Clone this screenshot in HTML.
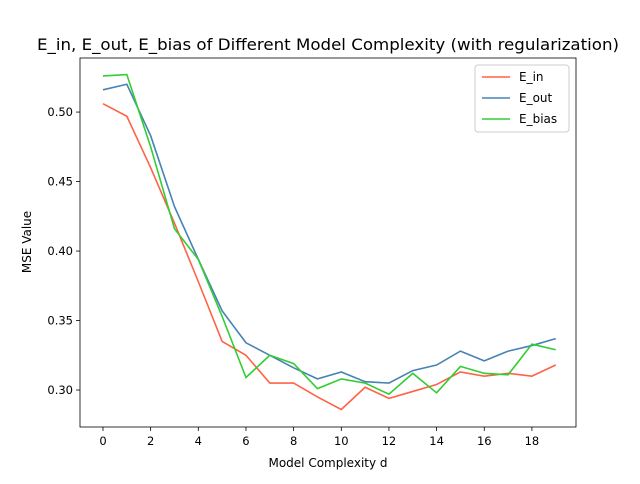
<!DOCTYPE html>
<html><head><meta charset="utf-8"><style>
body{margin:0;background:#fff;font-family:"DejaVu Sans","Liberation Sans",sans-serif;}
svg text{font-family:"DejaVu Sans","Liberation Sans",sans-serif;}
</style></head><body>
<svg id="chart" width="640" height="480"></svg>
<script>
const xs=[0,1,2,3,4,5,6,7,8,9,10,11,12,13,14,15,16,17,18,19];
const eIn=[0.506,0.497,0.46,0.42,0.378,0.335,0.325,0.305,0.305,0.295,0.286,0.302,0.294,0.299,0.304,0.313,0.310,0.312,0.310,0.318];
const eOut=[0.516,0.520,0.483,0.432,0.394,0.357,0.334,0.325,0.316,0.308,0.313,0.306,0.305,0.314,0.318,0.328,0.321,0.328,0.332,0.337];
const eBias=[0.526,0.527,0.475,0.416,0.394,0.353,0.309,0.325,0.319,0.301,0.308,0.305,0.297,0.312,0.298,0.317,0.312,0.311,0.333,0.329];
const xTicks=[0,2,4,6,8,10,12,14,16,18];
const yTicks=[0.30,0.35,0.40,0.45,0.50];
const seriesNames=["E_in","E_out","E_bias"];
const NS="http://www.w3.org/2000/svg";
const svg=document.getElementById('chart');
const L=80,R=576,T=58,B=427;
const x0=-0.965,x1=19.85,y0=0.2734,y1=0.5389;
const X=v=>L+(v-x0)/(x1-x0)*(R-L);
const Y=v=>B-(v-y0)/(y1-y0)*(B-T);
function mk(tag,attrs,txt){const e=document.createElementNS(NS,tag);for(const k in attrs)e.setAttribute(k,attrs[k]);if(txt!=null)e.textContent=txt;svg.appendChild(e);return e;}
let t=mk('text',{x:328,y:50,'font-size':16,'text-anchor':'middle',textLength:582,lengthAdjust:'spacingAndGlyphs'},'E_in, E_out, E_bias of Different Model Complexity (with regularization)');


xTicks.forEach(v=>{
 const l=mk('line',{x1:X(v),x2:X(v),y1:B,y2:B+4,stroke:'#000','stroke-width':0.8});
 
 
 const tx=mk('text',{x:X(v),y:B+18,'font-size':11.5,'text-anchor':'middle'},String(v));
 
 
});
yTicks.forEach(v=>{
 const l=mk('line',{x1:L-4,x2:L,y1:Y(v),y2:Y(v),stroke:'#000','stroke-width':0.8});
 
 
 const tx=mk('text',{x:L-7,y:Y(v)+4,'font-size':11.5,'text-anchor':'end'},v.toFixed(2));
 
 
});
t=mk('text',{x:328,y:467,'font-size':12,'text-anchor':'middle'},'Model Complexity d');


t=mk('text',{x:31,y:242,'font-size':12,'text-anchor':'middle',transform:'rotate(-90 31 242)'},'MSE Value');


const colors=['#ff6347','#4682b4','#32cd32'];
[eIn,eOut,eBias].forEach((s,i)=>{
 const p=mk('polyline',{points:s.map((v,j)=>X(xs[j])+','+Y(v)).join(' '),fill:'none',stroke:colors[i],'stroke-width':1.6});
 
 
});
const fr=mk('rect',{x:L,y:T,width:R-L,height:B-T,fill:'none',stroke:'#000','stroke-width':0.8});


const lg=mk('rect',{x:475,y:65,width:94,height:67,fill:'#fff',stroke:'#ccc','stroke-width':1,rx:3});


seriesNames.forEach((n,i)=>{
 const y=77+i*21;
 const l=mk('line',{x1:482,x2:510,y1:y,y2:y,stroke:colors[i],'stroke-width':1.6});
 
 
 const tx=mk('text',{x:519,y:y+4,'font-size':12},n);
 
 
});
</script>
</body></html>
